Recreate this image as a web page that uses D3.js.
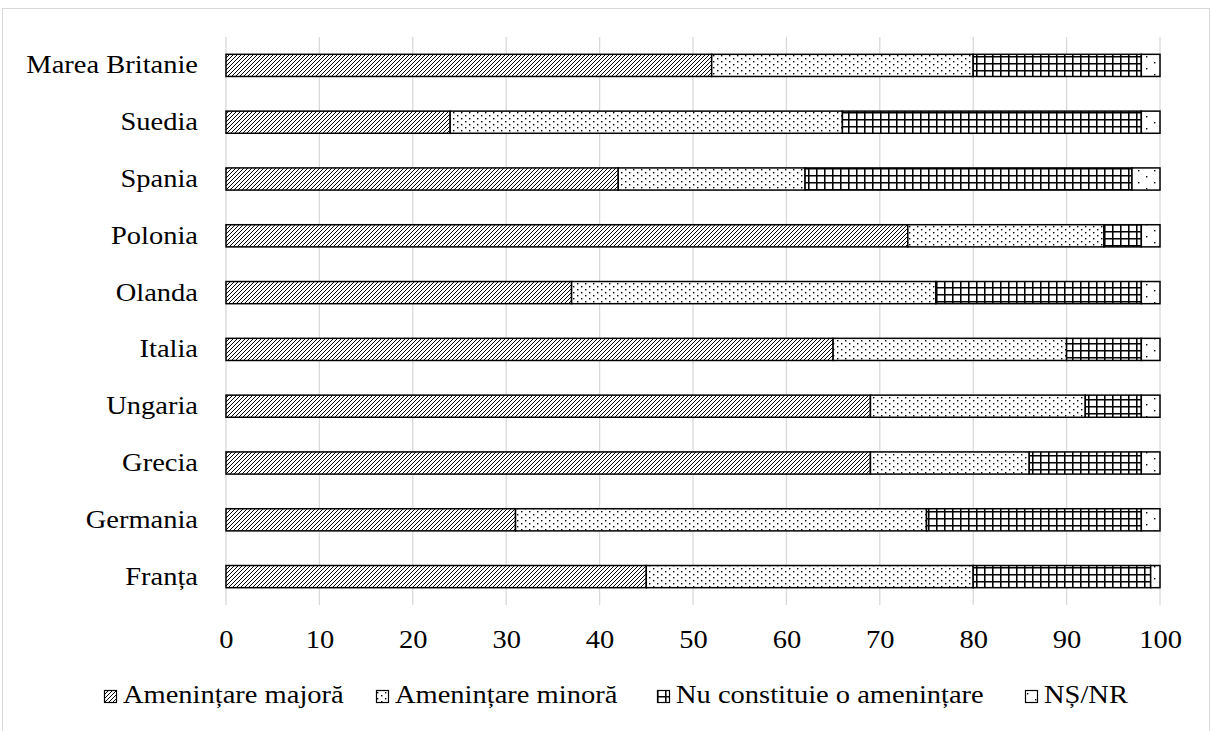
<html lang="ro">
<head>
<meta charset="utf-8">
<script src="https://cdn.jsdelivr.net/npm/d3@7"></script>
<style>
body{margin:0;background:#fff;}
svg{display:block;font-family:"Liberation Serif","Times New Roman",serif;}
</style>
</head>
<body>
<div id="drawarea"></div>
<script>
// categories, top to bottom
const countries=["Marea Britanie","Suedia","Spania","Polonia","Olanda","Italia","Ungaria","Grecia","Germania","Franța"]
const seriesNames=["Amenințare majoră","Amenințare minoră","Nu constituie o amenințare","NȘ/NR"]
const majora=[52,24,42,73,37,65,69,69,31,45]
const minora=[28,42,20,21,39,25,23,17,44,35]
const nuConstituie=[18,32,35,4,22,8,6,12,23,19]
const nsnr=[2,2,3,2,2,2,2,2,2,1]
const xTicks=[0,10,20,30,40,50,60,70,80,90,100]

const W=1212,H=731
const m={left:226,right:52,top:37,bottom:126}
const FS=25, SX=1.14  // text looks a bit wider than tall in the original

const svg=d3.select("#drawarea").append("svg").attr("width",W).attr("height",H)

// widen text around its own x anchor
function stretch(sel){
  sel.attr("transform",function(){
    const x0=+this.getAttribute("x")||0
    return "translate("+x0+",0) scale("+SX+",1) translate("+(-x0)+",0)"
  })
}

// patterns (excel style fills)
const defs=svg.append("defs")
let p=defs.append("pattern").attr("id","pat0").attr("patternUnits","userSpaceOnUse").attr("width",4).attr("height",4)
p.append("rect").attr("width",4).attr("height",4).attr("fill","#fff")
p.append("path").attr("d","M-1,1 l2,-2 M0,4 l4,-4 M3,5 l2,-2").attr("stroke","#000").attr("stroke-width",1)

p=defs.append("pattern").attr("id","pat1").attr("patternUnits","userSpaceOnUse").attr("width",8).attr("height",6)
p.append("rect").attr("width",8).attr("height",6).attr("fill","#fff")
p.append("rect").attr("x",1).attr("y",1).attr("width",1.4).attr("height",1.4).attr("fill","#000")
p.append("rect").attr("x",5).attr("y",4).attr("width",1.4).attr("height",1.4).attr("fill","#000")

p=defs.append("pattern").attr("id","pat2").attr("patternUnits","userSpaceOnUse").attr("width",8).attr("height",7)
p.append("rect").attr("width",8).attr("height",7).attr("fill","#fff")
p.append("path").attr("d","M0,0.75 H8 M0.75,0 V7").attr("stroke","#000").attr("stroke-width",1.6)

p=defs.append("pattern").attr("id","pat3").attr("patternUnits","userSpaceOnUse").attr("width",16).attr("height",12)
p.append("rect").attr("width",16).attr("height",12).attr("fill","#fff")
p.append("rect").attr("x",2).attr("y",2).attr("width",1.4).attr("height",1.4).attr("fill","#000")
p.append("rect").attr("x",10).attr("y",8).attr("width",1.4).attr("height",1.4).attr("fill","#000")

// outer frame
svg.append("rect").attr("x",2.5).attr("y",8.5).attr("width",W-5).attr("height",H+10)
  .attr("fill","none").attr("stroke","#d9d9d9").attr("stroke-width",1)

const x=d3.scaleLinear().domain([0,100]).range([m.left,W-m.right])
const y=d3.scaleBand().domain(countries).range([m.top,H-m.bottom]).paddingInner(0.61).paddingOuter(0.305)

// gridlines
svg.append("g").selectAll("line").data(xTicks).join("line")
  .attr("x1",d=>x(d)).attr("x2",d=>x(d)).attr("y1",m.top).attr("y2",H-m.bottom)
  .attr("stroke","#d9d9d9").attr("stroke-width",1.3)

// stacked data
const rows=countries.map((c,i)=>({country:c,s0:majora[i],s1:minora[i],s2:nuConstituie[i],s3:nsnr[i]}))
const stack=d3.stack().keys(["s0","s1","s2","s3"])(rows)

svg.append("g").selectAll("g").data(stack).join("g")
  .attr("fill",(d,i)=>"url(#pat"+i+")")
  .selectAll("rect").data(d=>d).join("rect")
  .attr("x",d=>x(d[0])).attr("width",d=>x(d[1])-x(d[0]))
  .attr("y",d=>y(d.data.country)).attr("height",y.bandwidth())
  .attr("stroke","#000").attr("stroke-width",1.5)

// axes
const xAxis=svg.append("g").attr("transform","translate(0,"+(H-m.bottom)+")")
  .call(d3.axisBottom(x).tickValues(xTicks).tickSize(0).tickPadding(25))
xAxis.select(".domain").remove()
xAxis.selectAll("text").attr("font-size",FS).attr("font-family","Liberation Serif").attr("fill","#000").call(stretch)

const yAxis=svg.append("g").attr("transform","translate("+m.left+",0)")
  .call(d3.axisLeft(y).tickSize(0).tickPadding(28))
yAxis.select(".domain").remove()
yAxis.selectAll("text").attr("font-size",FS).attr("font-family","Liberation Serif").attr("fill","#000").call(stretch)

// legend
const legX=[104,376,657,1025]
const leg=svg.append("g").selectAll("g").data(seriesNames).join("g")
  .attr("transform",(d,i)=>"translate("+legX[i]+",703)")
leg.append("rect").attr("x",0.5).attr("y",-12.5).attr("width",12).attr("height",12)
  .attr("fill",(d,i)=>"url(#pat"+i+")").attr("stroke","#000").attr("stroke-width",1.2)
leg.append("text").attr("x",19).attr("y",0).attr("font-size",FS).attr("fill","#000").text(d=>d).call(stretch)
</script>
</body>
</html>
